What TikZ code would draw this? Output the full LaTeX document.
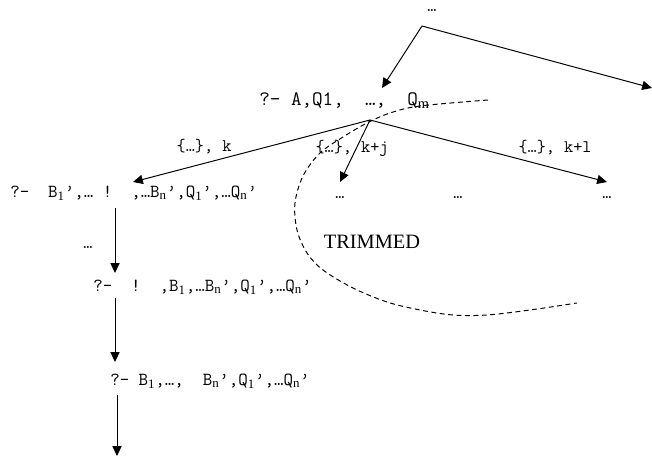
\documentclass[tikz,border=0pt]{standalone}
\usepackage{fontspec}
\setmainfont{Liberation Serif}
\usetikzlibrary{arrows.meta}
\newcommand{\subidx}[1]{\textsubscript{\rmfamily #1}}

\begin{document}
\begin{tikzpicture}[x=0.025cm,y=-0.025cm,
    goal/.style={font=\ttfamily\fontsize{13.1}{15}\selectfont,inner sep=0pt,anchor=west},
    lbl/.style={font=\ttfamily\fontsize{12.6}{14}\selectfont,inner sep=0pt},
    dots/.style={font=\ttfamily\fontsize{12.6}{14}\selectfont,inner sep=0pt,anchor=base},
    arr/.style={line width=0.7pt,-{Triangle[length=7pt,width=6.5pt]}},
    cut/.style={line width=0.7pt,dash pattern=on 3.5pt off 2.5pt}]
  \fill[white] (0,0) rectangle (652,457);
  \useasboundingbox (0,0) rectangle (652,457);

  % top of the tree
  \node[dots] (top) at (432,12) {…};
  \coordinate (fork) at (422,26);
  \coordinate (rootin) at (382,88);
  \coordinate (offpage) at (652,88);
  \node[goal,font=\ttfamily\fontsize{14.6}{16}\selectfont] (root) at (259,101)
    {?- A,Q1,\ \ …,\ \ Q\subidx{m}};
  \draw[arr] (fork) -- (rootin);
  \draw[arr] (fork) -- (offpage);

  % the cut
  \draw[cut] plot[smooth,tension=0.55] coordinates {(488,100) (420,106) (390,113)
    (367,123) (343,137) (320,153) (303,176) (295,203) (297,230) (307,253)
    (323,270) (353,288) (387,302) (420,310) (453,315) (487,315) (530,310) (577,303)};
  \node[font=\rmfamily\fontsize{14.5}{17}\selectfont,inner sep=0pt] (trim) at (372,242) {TRIMMED};

  % branches
  \coordinate (split) at (370,120);
  \coordinate (g1in) at (133,182);
  \coordinate (d1in) at (340,182);
  \coordinate (d3in) at (607,182);
  \draw[arr] (split) -- (g1in);
  \draw[arr] (split) -- (d1in);
  \draw[arr] (split) -- (d3in);
  \node[lbl] (l1) at (204,147) {\{…\}, k};
  \node[lbl] (l2) at (352,148) {\{…\}, k+j};
  \node[lbl] (l3) at (555,148) {\{…\}, k+l};

  \node[dots] (d1) at (340,199) {…};
  \node[dots] (d2) at (458,199) {…};
  \node[dots] (d3) at (607,199) {…};

  % left path
  \node[goal] (g1) at (10,193)
    {?-\ \ B\subidx{1}’,… !\ \ ,…B\subidx{n}’,Q\subidx{1}’,…Q\subidx{n}’};
  \node[dots] (d0) at (88,249) {…};
  \node[goal] (g2) at (93,287)
    {?-\ \ !\ \ ,B\subidx{1},…B\subidx{n}’,Q\subidx{1}’,…Q\subidx{n}’};
  \node[goal] (g3) at (110,381)
    {?- B\subidx{1},…,\ \ B\subidx{n}’,Q\subidx{1}’,…Q\subidx{n}’};

  \coordinate (g1out) at (115,208);
  \coordinate (g2in) at (115,273);
  \coordinate (g2out) at (115,298);
  \coordinate (g3in) at (115,362);
  \coordinate (g3out) at (117,395);
  \coordinate (bottom) at (117,456);
  \draw[arr] (g1out) -- (g2in);
  \draw[arr] (g2out) -- (g3in);
  \draw[arr] (g3out) -- (bottom);
\end{tikzpicture}
\end{document}
